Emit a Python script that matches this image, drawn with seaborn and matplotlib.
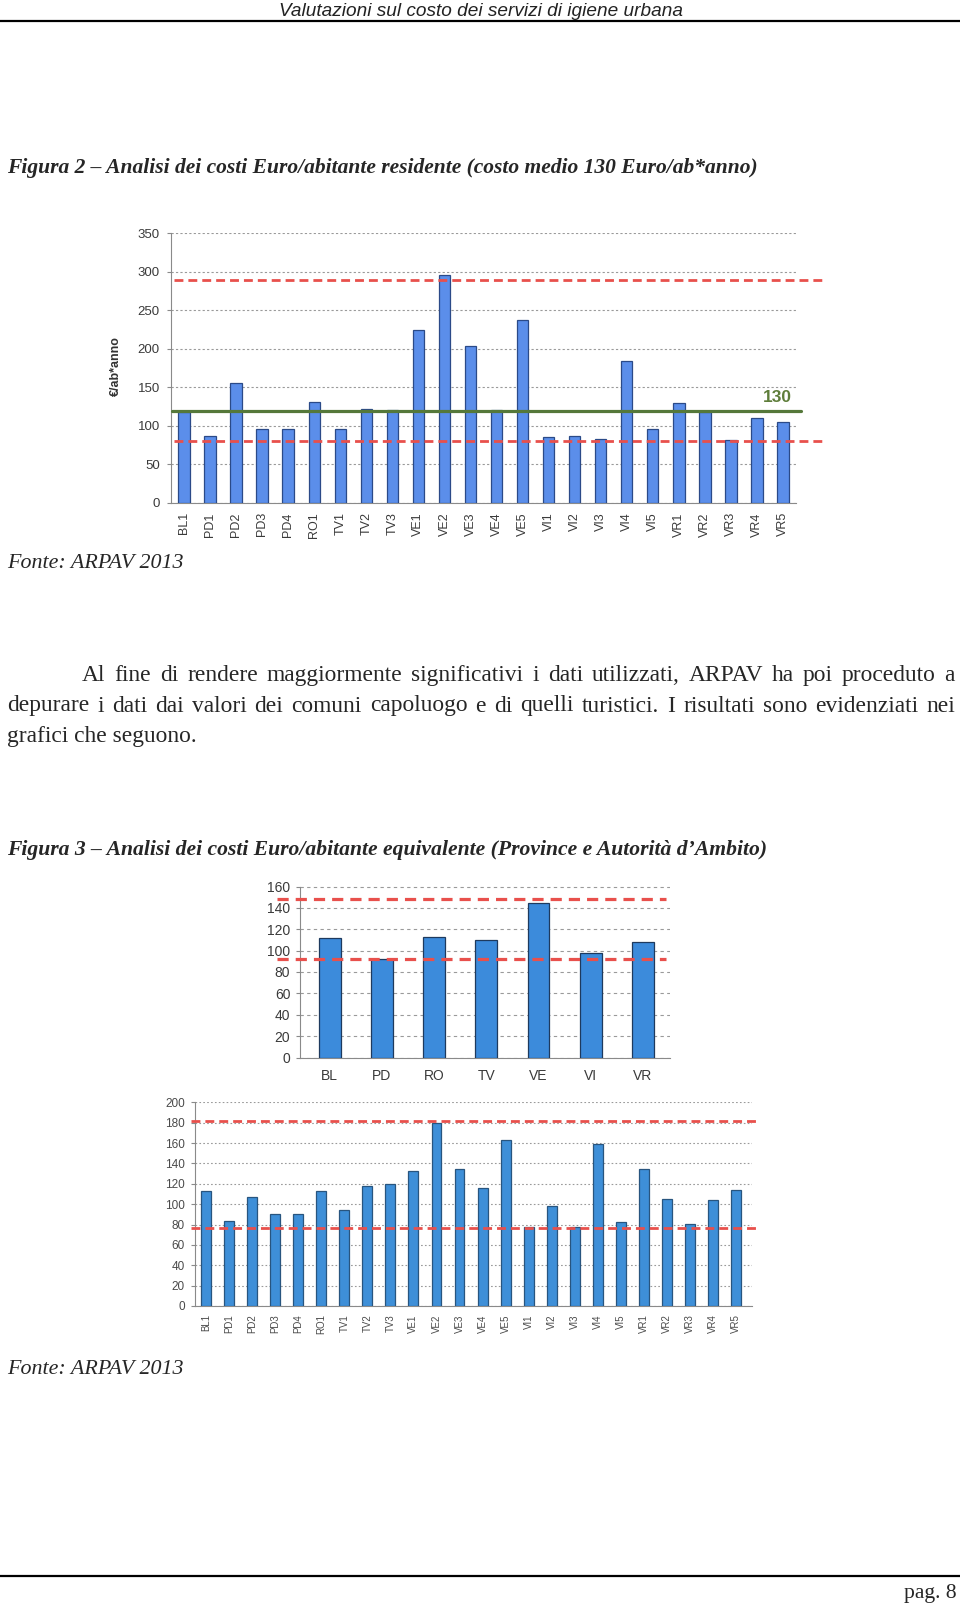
import matplotlib
matplotlib.use("Agg")
import matplotlib.pyplot as plt
import seaborn as sns
import pandas as pd
import numpy as np
from matplotlib.lines import Line2D
from matplotlib import font_manager

# ---------------- data ----------------
cat1 = ["BL1", "PD1", "PD2", "PD3", "PD4", "RO1", "TV1", "TV2", "TV3", "VE1", "VE2", "VE3",
        "VE4", "VE5", "VI1", "VI2", "VI3", "VI4", "VI5", "VR1", "VR2", "VR3", "VR4", "VR5"]
val1 = [118, 86, 156, 96, 95, 131, 95, 122, 120, 225, 296, 204,
        120, 237, 85, 86, 83, 184, 96, 130, 118, 81, 110, 105]
red1 = [290, 80]
green1 = 119
green1_label = "130"
yticks1 = [0, 50, 100, 150, 200, 250, 300, 350]
ylabel1 = "€/ab*anno"

cat2 = ["BL", "PD", "RO", "TV", "VE", "VI", "VR"]
val2 = [112, 92, 113, 110, 145, 98, 108]
red2 = [148, 92]
yticks2 = [0, 20, 40, 60, 80, 100, 120, 140, 160]

cat3 = cat1
val3 = [113, 83, 107, 90, 90, 113, 94, 118, 120, 133, 180, 135,
        116, 163, 78, 98, 78, 159, 82, 135, 105, 81, 104, 114]
red3 = [182, 77]
yticks3 = [0, 20, 40, 60, 80, 100, 120, 140, 160, 180, 200]

header = "Valutazioni sul costo dei servizi di igiene urbana"
caption2 = "Figura 2 \u2013 Analisi dei costi Euro/abitante residente (costo medio 130 Euro/ab*anno)"
caption3 = "Figura 3 \u2013 Analisi dei costi Euro/abitante equivalente (Province e Autorit\u00e0 d\u2019Ambito)"
source = "Fonte: ARPAV 2013"
para = ["Al fine di rendere maggiormente significativi i dati utilizzati, ARPAV ha poi proceduto a",
        "depurare i dati dai valori dei comuni capoluogo e di quelli turistici. I risultati sono evidenziati nei",
        "grafici che seguono."]
page = "pag. 8"

# ---------------- setup ----------------
sns.set_theme(style="white")
SERIF = "Liberation Serif"
SANS = "Liberation Sans"
try:
    font_manager.findfont("Liberation Sans Narrow", fallback_to_default=False)
    NARROW = "Liberation Sans Narrow"
except Exception:
    NARROW = SANS
plt.rcParams["font.family"] = [SANS, "DejaVu Sans"]

W, H = 960, 1604
fig = plt.figure(figsize=(W / 100, H / 100), dpi=100)
fig.patch.set_facecolor("white")
renderer = fig.canvas.get_renderer()


def fx(x):
    return x / W


def fy(y):
    return 1 - y / H


def put(x, y, s, width=None, size=12, ha="left", **kw):
    t = fig.text(fx(x), fy(y), s, ha=ha, va="baseline", fontsize=size, **kw)
    if width:
        bb = t.get_window_extent(renderer)
        t.set_fontsize(size * width / bb.width)
    return t


def justify(line, x0, x1, y, size, **kw):
    words = line.split()
    texts = [fig.text(0, 0, w, fontsize=size, va="baseline", **kw) for w in words]
    widths = [t.get_window_extent(renderer).width for t in texts]
    gap = (x1 - x0 - sum(widths)) / (len(words) - 1)
    x = x0
    for t, w in zip(texts, widths):
        t.set_position((fx(x), fy(y)))
        x += w + gap


def make_ax(l, r, t, b):
    return fig.add_axes([fx(l), fy(b), (r - l) / W, (b - t) / H])


def bar_chart(ax, cats, vals, color, edge, width, xlim, yticks, ysize, xsize, tcolor,
              grid_color, grid_ls, ypad, xpad):
    df = pd.DataFrame({"cat": cats, "val": vals})
    sns.barplot(data=df, x="cat", y="val", ax=ax, color=color, edgecolor=edge,
                linewidth=0.9, width=width, saturation=1, zorder=3)
    ax.set_xlim(*xlim)
    ax.set_ylim(yticks[0], yticks[-1])
    ax.set_yticks(yticks)
    ax.set_xlabel("")
    ax.set_ylabel("")
    ax.set_facecolor("none")
    ax.yaxis.grid(True, color=grid_color, linestyle=grid_ls, linewidth=0.8, zorder=0)
    ax.xaxis.grid(False)
    ax.set_axisbelow(True)
    for s in ["top", "right"]:
        ax.spines[s].set_visible(False)
    for s in ["left", "bottom"]:
        ax.spines[s].set_color("#8a8a8a")
        ax.spines[s].set_linewidth(0.8)
    ax.set_xticks(np.arange(len(cats) + 1) - 0.5, minor=True)
    ax.tick_params(axis="x", which="major", length=0, labelsize=xsize, labelcolor=tcolor, pad=xpad)
    ax.tick_params(axis="x", which="minor", length=3.5, color="#8a8a8a", width=0.8)
    ax.tick_params(axis="y", which="major", length=3, color="#8a8a8a", width=0.8,
                   labelsize=ysize, labelcolor=tcolor, pad=ypad, left=True)


# ---------------- page texts ----------------
put(481, 15.5, header, width=404, size=11, ha="center", family=[NARROW, "DejaVu Sans"],
    style="italic", color="#222222")
fig.add_artist(Line2D([0, 1], [fy(21), fy(21)], transform=fig.transFigure, color="black", lw=1.6))

put(7, 173, caption2, width=753, size=14, family=[SERIF], style="italic", weight="bold")
put(7, 568, source, width=176, size=14, family=[SERIF], style="italic")

ptxt = put(7, 742, para[2], width=190, size=14, family=[SERIF])
psize = ptxt.get_fontsize()
justify(para[0], 82, 955, 681, psize, family=[SERIF])
justify(para[1], 7, 955, 711.5, psize, family=[SERIF])

put(7, 855, caption3, width=759, size=14, family=[SERIF], style="italic", weight="bold")
put(7, 1374, source, width=176, size=14, family=[SERIF], style="italic")

fig.add_artist(Line2D([0, 1], [fy(1576), fy(1576)], transform=fig.transFigure, color="black", lw=1.6))
put(957, 1598, page, width=53, size=14, ha="right", family=[SERIF])

# ---------------- chart 1 ----------------
ax1 = make_ax(171, 796, 233.4, 502.5)
bar_chart(ax1, cat1, val1, "#5b8eea", "#2b4a88", 0.44, (-0.5, 23.5), yticks1, 9.5, 9, "#3a3a3a",
          "#9a9a9a", (0, (2, 2)), 5, 7)
ax1.tick_params(axis="x", labelrotation=90)
for v in red1:
    ax1.axhline(v, xmin=0.005, xmax=1.042, color="#e8504c", lw=2.0, linestyle=(0, (3.2, 1.8)),
                clip_on=False, zorder=5)
ax1.axhline(green1, xmin=0.002, xmax=1.008, color="#55783a", lw=2.3, clip_on=False, zorder=6)
ax1.text(22.77, green1 + 17, green1_label, ha="center", va="center", color="#5e7d3a",
         fontsize=12.5, weight="bold")
fig.text(fx(116), fy(366), ylabel1, rotation=90, ha="center", va="center", fontsize=9,
         weight="bold", color="#333333")

# ---------------- chart 2 ----------------
ax2 = make_ax(300, 670, 886.5, 1057.5)
bar_chart(ax2, cat2, val2, "#3c8bdb", "#1e3a5e", 0.42, (-0.57, 6.52), yticks2, 10, 10, "#3a3a3a",
          "#9a9a9a", (0, (3, 3)), 4, 8)
for v in red2:
    ax2.axhline(v, xmin=-0.062, xmax=0.99, color="#e8504c", lw=2.3, linestyle=(0, (3.5, 2.2)),
                clip_on=False, zorder=5)

# ---------------- chart 3 ----------------
ax3 = make_ax(194.5, 752, 1102.3, 1306)
bar_chart(ax3, cat3, val3, "#3e8fd8", "#28557f", 0.43, (-0.49, 23.69), yticks3, 8.5, 7, "#4a4a4a",
          "#9a9a9a", (0, (1.5, 2)), 4, 6)
ax3.tick_params(axis="x", labelrotation=90)
for v in red3:
    ax3.axhline(v, xmin=-0.006, xmax=1.014, color="#e8504c", lw=2.0, linestyle=(0, (3.2, 1.8)),
                clip_on=False, zorder=5)

fig.savefig("out.png", dpi=100, facecolor="white")
